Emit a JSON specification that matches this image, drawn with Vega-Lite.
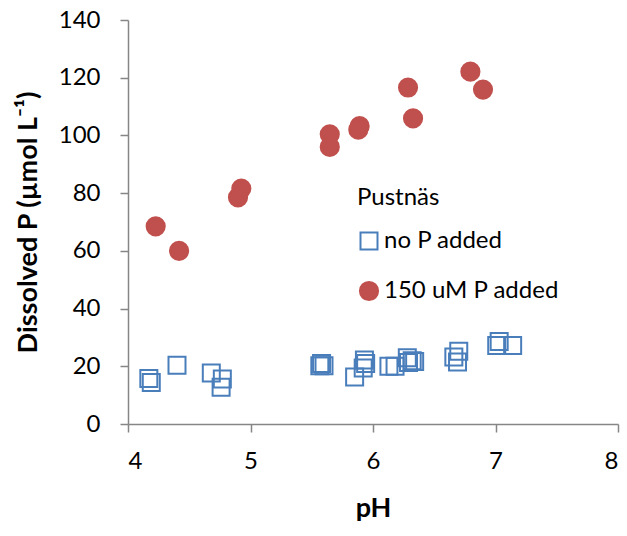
{
  "$schema": "https://vega.github.io/schema/vega-lite/v6.json",
  "width": 490,
  "height": 404,
  "autosize": "none",
  "padding": {"left": 128, "top": 20, "right": 9, "bottom": 112},
  "background": "white",
  "config": {
    "view": {"stroke": null},
    "font": "Lato",
    "axis": {"grid": false, "domainColor": "#868686", "tickColor": "#868686", "domainWidth": 1.5, "tickWidth": 1.5, "tickSize": 8, "labelColor": "#000000", "labelFontSize": 24, "labelFont": "Lato", "titleFont": "Lato", "titleFontSize": 27, "titleFontWeight": "bold", "titleColor": "#000000"}
  },
  "data": {
    "values": [
      {"pH": 4.17, "P": 15.8, "treatment": "no P added"},
      {"pH": 4.19, "P": 14.4, "treatment": "no P added"},
      {"pH": 4.40, "P": 20.4, "treatment": "no P added"},
      {"pH": 4.68, "P": 17.7, "treatment": "no P added"},
      {"pH": 4.77, "P": 15.6, "treatment": "no P added"},
      {"pH": 4.76, "P": 12.7, "treatment": "no P added"},
      {"pH": 5.566, "P": 20.2, "treatment": "no P added"},
      {"pH": 5.58, "P": 21.0, "treatment": "no P added"},
      {"pH": 5.60, "P": 20.2, "treatment": "no P added"},
      {"pH": 5.85, "P": 16.3, "treatment": "no P added"},
      {"pH": 5.93, "P": 22.2, "treatment": "no P added"},
      {"pH": 5.92, "P": 19.4, "treatment": "no P added"},
      {"pH": 5.94, "P": 21.0, "treatment": "no P added"},
      {"pH": 6.13, "P": 20.0, "treatment": "no P added"},
      {"pH": 6.18, "P": 20.0, "treatment": "no P added"},
      {"pH": 6.28, "P": 23.0, "treatment": "no P added"},
      {"pH": 6.32, "P": 21.9, "treatment": "no P added"},
      {"pH": 6.34, "P": 21.7, "treatment": "no P added"},
      {"pH": 6.29, "P": 21.3, "treatment": "no P added"},
      {"pH": 6.66, "P": 23.2, "treatment": "no P added"},
      {"pH": 6.70, "P": 25.2, "treatment": "no P added"},
      {"pH": 6.69, "P": 21.5, "treatment": "no P added"},
      {"pH": 7.01, "P": 27.2, "treatment": "no P added"},
      {"pH": 7.03, "P": 28.6, "treatment": "no P added"},
      {"pH": 7.14, "P": 27.2, "treatment": "no P added"},
      {"pH": 4.226, "P": 68.5, "treatment": "150 uM P added"},
      {"pH": 4.417, "P": 60.0, "treatment": "150 uM P added"},
      {"pH": 4.925, "P": 81.6, "treatment": "150 uM P added"},
      {"pH": 4.898, "P": 78.5, "treatment": "150 uM P added"},
      {"pH": 5.647, "P": 100.4, "treatment": "150 uM P added"},
      {"pH": 5.647, "P": 96.0, "treatment": "150 uM P added"},
      {"pH": 5.891, "P": 103.2, "treatment": "150 uM P added"},
      {"pH": 5.88, "P": 102.0, "treatment": "150 uM P added"},
      {"pH": 6.286, "P": 116.6, "treatment": "150 uM P added"},
      {"pH": 6.327, "P": 105.9, "treatment": "150 uM P added"},
      {"pH": 6.795, "P": 122.1, "treatment": "150 uM P added"},
      {"pH": 6.898, "P": 115.9, "treatment": "150 uM P added"}
    ]
  },
  "mark": {"type": "point", "filled": false, "opacity": 1, "strokeWidth": 2},
  "encoding": {
    "x": {"field": "pH", "type": "quantitative", "scale": {"domain": [4, 8], "nice": false, "zero": false}, "axis": {"values": [4, 5, 6, 7, 8], "title": "pH", "labelPadding": 17, "titlePadding": 22}},
    "y": {"field": "P", "type": "quantitative", "scale": {"domain": [0, 140], "nice": false}, "axis": {"values": [0, 20, 40, 60, 80, 100, 120, 140], "title": "Dissolved P (µmol L⁻¹)", "labelPadding": 20, "titlePadding": 16}},
    "color": {"field": "treatment", "type": "nominal", "scale": {"domain": ["no P added", "150 uM P added"], "range": ["#4A7EBB", "#C0504D"]}, "legend": {"orient": "none", "legendX": 229, "legendY": 166, "title": "Pustnäs", "titleFontSize": 24, "titleFontWeight": "normal", "titleColor": "#000000", "labelFontSize": 24, "labelColor": "#000000", "labelLimit": 0, "symbolSize": 200, "symbolStrokeWidth": 2, "rowPadding": 23, "titlePadding": 19, "labelOffset": 3}},
    "shape": {"field": "treatment", "type": "nominal", "scale": {"domain": ["no P added", "150 uM P added"], "range": ["square", "circle"]}},
    "fill": {"field": "treatment", "type": "nominal", "scale": {"domain": ["no P added", "150 uM P added"], "range": ["transparent", "#C0504D"]}},
    "size": {"field": "treatment", "type": "nominal", "scale": {"domain": ["no P added", "150 uM P added"], "range": [289, 330]}, "legend": null}
  }
}
